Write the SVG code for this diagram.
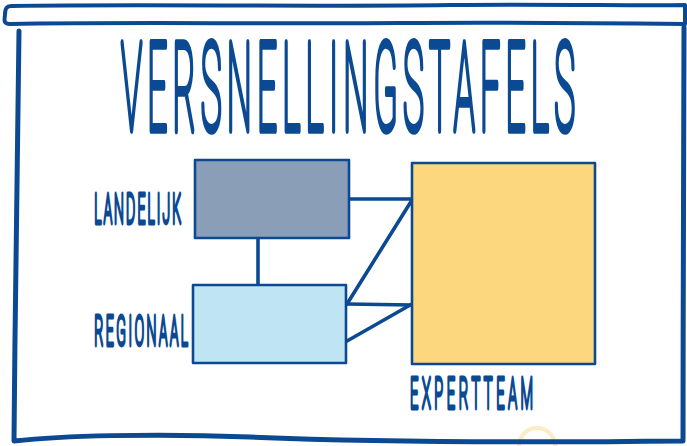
<svg xmlns="http://www.w3.org/2000/svg" width="687" height="446" viewBox="0 0 687 446">
<style>
  .ink { stroke: #0b4a93; fill: none; stroke-linecap: round; stroke-linejoin: round; }
  .frame { stroke-width: 5; }
  .bar { stroke-width: 4; }
  .box { stroke: #0b4a93; stroke-width: 2.6; stroke-linejoin: round; }
  .conn { stroke: #0b4a93; stroke-width: 3.6; fill: none; stroke-linecap: round; }
  .t { font-family: Roboto, "Liberation Sans", sans-serif; font-weight: 100; fill: #0b4a93; stroke: #0b4a93; stroke-linejoin: round; stroke-linecap: round; vector-effect: non-scaling-stroke; }
  .title { font-size: 122px; stroke-width: 5.6; }
  .lbl { font-size: 41px; stroke-width: 3.6; }
</style>
<rect width="687" height="446" fill="#ffffff"/>
<g id="frame">
  <path d="M519,446 A18,18 0 0 1 555,446" fill="none" stroke="#fcecc4" stroke-width="4"/>
  <path class="ink bar" d="M12,6 C150,4 300,7 450,5 C560,4 640,6 685,5 L685,24 C600,23 500,22 400,23 C250,24 120,22 10,24 C4,24 4,21 5,15 C5,9 6,6 12,6 Z"/>
  <path class="ink frame" d="M19,31 C18,150 15,300 14,441 C60,436 150,433 250,437 C350,441 500,443 683,441 C683,300 684,150 684,27"/>
</g>
<text class="t title" transform="scale(0.29,1)" x="417" y="130" textLength="1566" lengthAdjust="spacing">VERSNELLINGSTAFELS</text>
<g id="connectors">
  <line class="conn" x1="258" y1="238" x2="258" y2="285"/>
  <line class="conn" x1="349" y1="199" x2="412" y2="199"/>
  <line class="conn" x1="347" y1="304" x2="412" y2="200"/>
  <line class="conn" x1="347" y1="304" x2="412" y2="305"/>
  <line class="conn" x1="347" y1="341" x2="412" y2="304"/>
</g>
<g id="landelijk">
  <rect class="box" x="195" y="160" width="154" height="78" fill="#8a9fb7"/>
  <text class="t lbl" transform="scale(0.34,1)" x="277" y="223" textLength="256" lengthAdjust="spacing">LANDELIJK</text>
</g>
<g id="regionaal">
  <rect class="box" x="193" y="285" width="153" height="78" fill="#bfe4f4"/>
  <text class="t lbl" transform="scale(0.34,1)" x="277" y="345" textLength="276" lengthAdjust="spacing">REGIONAAL</text>
</g>
<g id="expertteam">
  <rect class="box" x="412" y="163" width="183" height="201" fill="#fdd77e"/>
  <text class="t lbl" transform="scale(0.34,1)" x="1206" y="408" textLength="362" lengthAdjust="spacing" style="font-size:43px">EXPERTTEAM</text>
</g>
</svg>
